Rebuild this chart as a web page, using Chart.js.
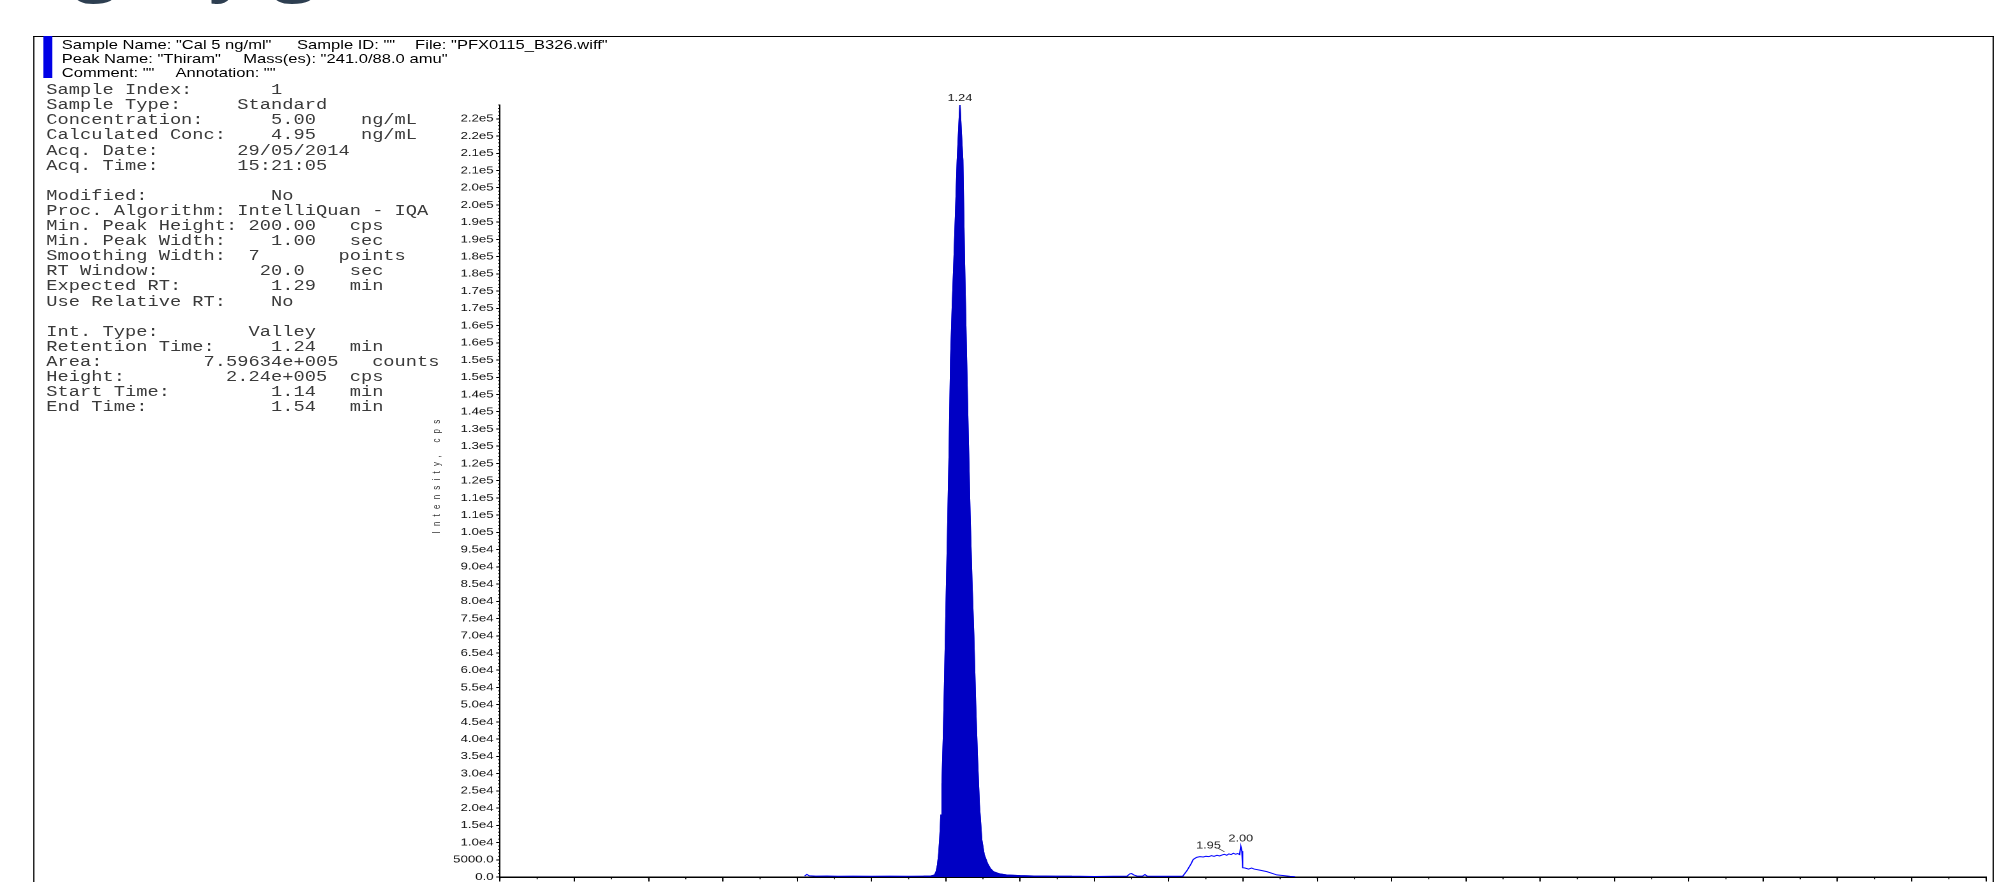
<!DOCTYPE html>
<html>
<head>
<meta charset="utf-8">
<script src="https://cdn.jsdelivr.net/npm/chart.js@4/dist/chart.umd.min.js"></script>
<style>
html,body{margin:0;padding:0;width:1999px;height:882px;overflow:hidden;background:#fff;}
#stage{position:absolute;left:0;top:0;width:1568px;height:882px;transform-origin:0 0;transform:scaleX(1.274872);}
.abs{position:absolute;}
.t{position:absolute;white-space:pre;}
#slideTitle{font-family:"Open Sans",sans-serif;font-size:64px;line-height:64px;color:#2e3f51;top:-67px;left:0px;}
.hdr{font-family:"Liberation Sans",Arial,sans-serif;font-size:13px;line-height:14px;color:#000;}
#info{font-family:"Liberation Mono","Courier New",monospace;font-size:14.7px;line-height:15.1px;color:#3a3a3a;left:36.3px;top:83.2px;margin:0;}
#ytitle{font-family:"Liberation Sans",Arial,sans-serif;font-size:8px;letter-spacing:5.2px;color:#333;left:343px;top:474px;transform:translate(-50%,-50%) rotate(-90deg);}
#chartBox{position:absolute;left:0;top:0;width:1568px;height:900px;}
</style>
</head>
<body>
<div id="stage">
  <div id="slideTitle" class="t">(ng, by gas</div>
  <div class="abs" style="left:25.6px;top:35.6px;width:1538.4px;height:1.6px;background:#000;"></div>
  <div class="abs" style="left:25.6px;top:35.6px;width:1px;height:860px;background:#000;"></div>
  <div class="abs" style="left:1562.6px;top:35.6px;width:1.2px;height:860px;background:#000;"></div>
  <div class="abs" style="left:33.8px;top:36px;width:7px;height:42px;background:#0000e6;"></div>

  <div class="t hdr" style="left:48.4px;top:37.6px;">Sample Name: "Cal 5 ng/ml"</div>
  <div class="t hdr" style="left:232.9px;top:37.6px;">Sample ID: ""</div>
  <div class="t hdr" style="left:325.6px;top:37.6px;">File: "PFX0115_B326.wiff"</div>
  <div class="t hdr" style="left:48.4px;top:51.6px;">Peak Name: "Thiram"</div>
  <div class="t hdr" style="left:190.8px;top:51.6px;">Mass(es): "241.0/88.0 amu"</div>
  <div class="t hdr" style="left:48.4px;top:65.6px;">Comment: ""</div>
  <div class="t hdr" style="left:137.6px;top:65.6px;">Annotation: ""</div>

<pre id="info" class="t">Sample Index:       1
Sample Type:     Standard
Concentration:      5.00    ng/mL
Calculated Conc:    4.95    ng/mL
Acq. Date:       29/05/2014
Acq. Time:       15:21:05

Modified:           No
Proc. Algorithm: IntelliQuan - IQA
Min. Peak Height: 200.00   cps
Min. Peak Width:    1.00   sec
Smoothing Width:  7       points
RT Window:         20.0    sec
Expected RT:        1.29   min
Use Relative RT:    No

Int. Type:        Valley
Retention Time:     1.24   min
Area:         7.59634e+005   counts
Height:         2.24e+005  cps
Start Time:         1.14   min
End Time:           1.54   min</pre>

  <div id="ytitle" class="t">Intensity, cps</div>
  <div id="chartBox"><canvas id="c" width="1568" height="900" style="width:1568px;height:900px;"></canvas></div>
</div>

<script>
// ---- data ----
const times = [0.820, 0.826, 0.832, 0.850, 0.880, 0.910, 0.950, 1.000, 1.050, 1.100,
  1.140, 1.160, 1.170, 1.174, 1.178, 1.181, 1.184, 1.187, 1.190, 1.1935,
  1.197, 1.201, 1.205, 1.209, 1.2132, 1.2175, 1.2222, 1.2265, 1.231, 1.2345,
  1.238, 1.2415, 1.2455, 1.250, 1.2556, 1.260, 1.265, 1.270, 1.275, 1.280,
  1.285, 1.290, 1.2966, 1.303, 1.3117, 1.320, 1.328, 1.345, 1.364, 1.400,
  1.436, 1.470, 1.500, 1.540, 1.560, 1.600, 1.650, 1.688, 1.695, 1.700,
  1.706, 1.715, 1.730, 1.736, 1.742, 1.780, 1.820, 1.838, 1.850, 1.860,
  1.866, 1.875, 1.884, 1.893, 1.900, 1.908, 1.915, 1.922, 1.930, 1.937,
  1.944, 1.950, 1.956, 1.962, 1.968, 1.974, 1.980, 1.986, 1.991, 1.994,
  1.997, 1.999, 2.005, 2.015, 2.023, 2.030, 2.045, 2.064, 2.080, 2.091,
  2.110, 2.127, 2.140];
const intensity = [300, 750, 350, 250, 300, 200, 250, 200, 250, 200,
  250, 300, 600, 1500, 3500, 6500, 11000, 18000, 27000, 40000,
  57000, 79000, 100000, 122000, 150000, 165000, 179000, 193000, 208000, 216000,
  224000, 216000, 208000, 179000, 150000, 128000, 105000, 86000, 70000, 50000,
  34000, 21000, 10700, 6500, 3970, 2400, 1540, 900, 580, 400,
  290, 250, 220, 200, 200, 150, 200, 250, 900, 1000,
  600, 250, 300, 700, 250, 200, 200, 250, 2000, 3800,
  5100, 5700, 5900, 5800, 6000, 5900, 6200, 6000, 6300, 6100,
  6400, 6600, 6300, 6700, 6500, 6900, 6600, 6800, 6500, 9000,
  7500, 2700, 2600, 2300, 2600, 2300, 2000, 1550, 1000, 600,
  400, 200, 100];
const integrationStart = 1.14;
const integrationEnd = 1.54;
const peakLabelText = ['1.24', '1.95', '2.00'];
const peakLabelTime = [1.238, 1.950, 1.994];
const yTickStep = 5000;
const yTickLabels = ['0.0','5000.0','1.0e4','1.5e4','2.0e4','2.5e4','3.0e4','3.5e4','4.0e4','4.5e4',
  '5.0e4','5.5e4','6.0e4','6.5e4','7.0e4','7.5e4','8.0e4','8.5e4','9.0e4','9.5e4',
  '1.0e5','1.1e5','1.1e5','1.2e5','1.2e5','1.3e5','1.3e5','1.4e5','1.4e5','1.5e5',
  '1.5e5','1.6e5','1.6e5','1.7e5','1.7e5','1.8e5','1.8e5','1.9e5','1.9e5','2.0e5',
  '2.0e5','2.1e5','2.1e5','2.2e5','2.2e5'];
const yMax = 224000;
const yMinorStep = 1000;
const xMin = 0, xMax = 4.0, xMajorStep = 0.2, xMinorStep = 0.1;

// ---- styles ----
const traceColor = '#0000ff';
const fillColor = '#0000c4';
const labelStyle = [
  {dx: 0, dy: -2, leader: false},
  {dx: -12.5, dy: -3.5, leader: true},
  {dx: 0, dy: -2, leader: false}
];

const tracePts = times.map((t, i) => ({x: t, y: intensity[i]}));
const fillPts = tracePts.filter(p => p.x >= integrationStart - 1e-9 && p.x <= integrationEnd + 1e-9);

const minorTicks = {
  id: 'minorTicks',
  afterDraw(c) {
    const {ctx, scales: {x, y}} = c;
    ctx.save();
    ctx.strokeStyle = '#000';
    ctx.lineWidth = 0.8;
    ctx.beginPath();
    const n = Math.round(yMax / yMinorStep);
    for (let i = 0; i <= n; i++) {
      const py = y.getPixelForValue(i * yMinorStep);
      ctx.moveTo(x.left - 1.6, py);
      ctx.lineTo(x.left, py);
    }
    const m = Math.round((xMax - xMin) / xMinorStep);
    for (let i = 0; i <= m; i++) {
      const px = x.getPixelForValue(xMin + i * xMinorStep);
      ctx.moveTo(px, y.bottom);
      ctx.lineTo(px, y.bottom + 2.2);
    }
    ctx.stroke();
    ctx.restore();
  }
};

const peakLabels = {
  id: 'peakLabels',
  afterDatasetsDraw(c) {
    const {ctx, scales: {x, y}} = c;
    ctx.save();
    ctx.font = '10px "Liberation Sans", Arial, sans-serif';
    ctx.fillStyle = '#222';
    ctx.strokeStyle = '#333';
    ctx.lineWidth = 0.7;
    ctx.textAlign = 'center';
    ctx.textBaseline = 'bottom';
    peakLabelText.forEach((txt, i) => {
      const t = peakLabelTime[i];
      const idx = times.findIndex(v => Math.abs(v - t) < 1e-6);
      const px = x.getPixelForValue(t);
      const py = y.getPixelForValue(intensity[idx]);
      const s = labelStyle[i];
      if (s.leader) {
        ctx.beginPath();
        ctx.moveTo(px - 5, py - 6);
        ctx.lineTo(px, py - 2.5);
        ctx.stroke();
      }
      ctx.fillText(txt, px + s.dx, py + s.dy);
    });
    ctx.restore();
  }
};

Chart.defaults.font.family = '"Liberation Sans", Arial, sans-serif';

new Chart(document.getElementById('c'), {
  type: 'scatter',
  data: {
    datasets: [
      {label: 'Integrated peak', data: fillPts, showLine: true, fill: 'origin',
       backgroundColor: fillColor, borderColor: fillColor, borderWidth: 1, pointRadius: 0, order: 0},
      {label: 'Thiram 241.0/88.0', data: tracePts, showLine: true, fill: false,
       borderColor: traceColor, borderWidth: 1, pointRadius: 0, order: 1}
    ]
  },
  options: {
    responsive: false,
    animation: false,
    devicePixelRatio: 2,
    layout: {padding: {left: 0, right: 10.2, top: 105, bottom: 18}},
    elements: {line: {tension: 0}, point: {radius: 0}},
    plugins: {legend: {display: false}, tooltip: {enabled: false}},
    scales: {
      x: {
        type: 'linear', min: xMin, max: xMax,
        afterBuildTicks: s => {
          const n = Math.round((xMax - xMin) / xMajorStep);
          s.ticks = Array.from({length: n + 1}, (_, i) => ({value: +(xMin + i * xMajorStep).toFixed(2)}));
        },
        ticks: {display: false},
        grid: {drawOnChartArea: false, drawTicks: true, tickLength: 4.5, color: '#000', tickWidth: 1},
        border: {display: true, color: '#000', width: 1.5},
        afterFit: s => { s.height = 5; }
      },
      y: {
        type: 'linear', min: 0, max: yMax,
        afterBuildTicks: s => {
          s.ticks = yTickLabels.map((_, i) => ({value: i * yTickStep}));
        },
        ticks: {
          autoSkip: false, padding: 2, color: '#111',
          font: {size: 10.4},
          callback: (v, i) => yTickLabels[i]
        },
        grid: {drawOnChartArea: false, drawTicks: true, tickLength: 3, color: '#000', tickWidth: 1},
        border: {display: true, color: '#000', width: 1},
        afterFit: s => { s.width = 392.2; }
      }
    }
  },
  plugins: [minorTicks, peakLabels]
});
</script>
</body>
</html>
